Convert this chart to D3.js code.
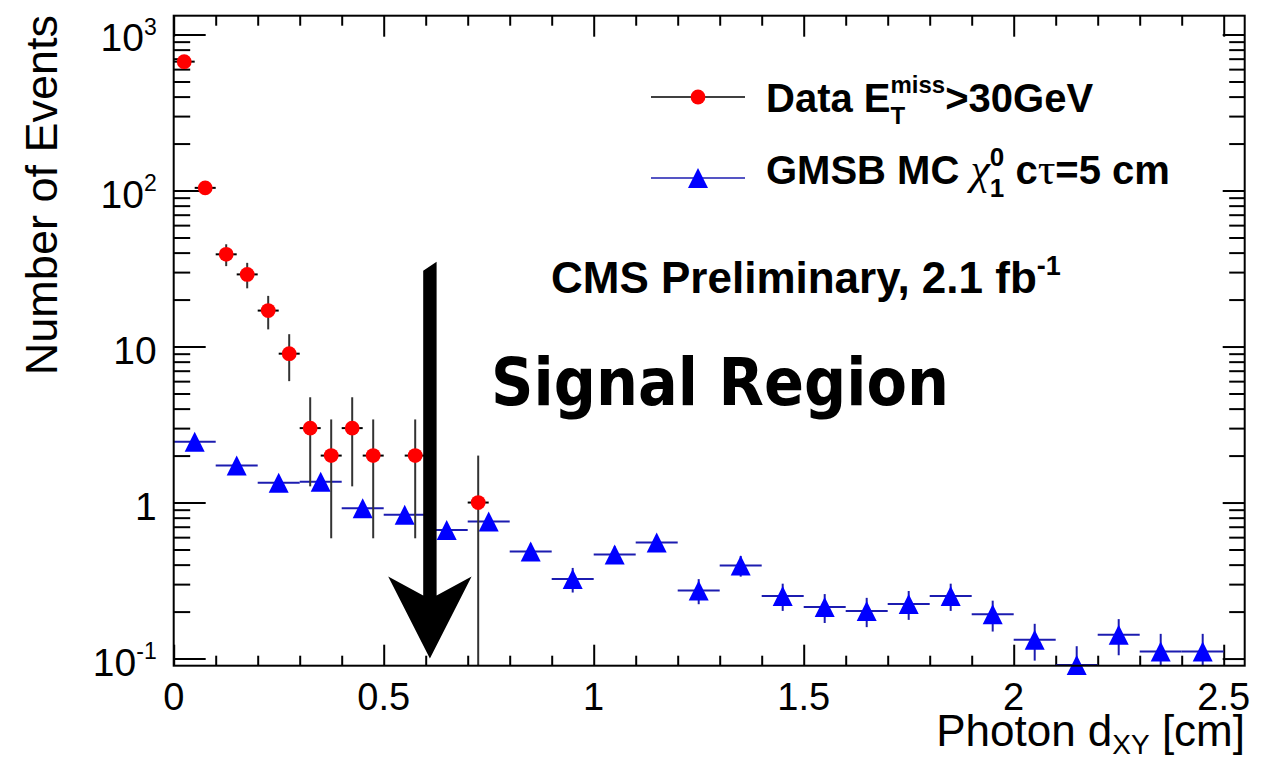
<!DOCTYPE html>
<html>
<head>
<meta charset="utf-8">
<script src="https://cdn.jsdelivr.net/npm/d3@7"></script>
<style>
  body { margin: 0; background: #fff; }
  svg { font-family: 'Liberation Sans', Arial, Helvetica, sans-serif; }
  text { fill: #000; }
</style>
</head>
<body>
<svg id="chart" width="1275" height="760"></svg>
<script>
// data histogram, bin width 0.05 cm (empty bins are not drawn)
const dataCenters = [0.025, 0.075, 0.125, 0.175, 0.225, 0.275, 0.325, 0.375, 0.425, 0.475, 0.575, 0.725]
const dataCounts = [670, 104, 39, 29, 17, 9, 3, 2, 3, 2, 2, 1]
const dataErrors = [25.9, 10.2, 6.24, 5.39, 4.12, 3, 1.73, 1.41, 1.73, 1.41, 1.41, 1]
const dataBinWidth = 0.05

// GMSB MC histogram, bin width 0.1 cm
const mcCenters = [0.05, 0.15, 0.25, 0.35, 0.45, 0.55, 0.65, 0.75, 0.85, 0.95, 1.05, 1.15, 1.25,
  1.35, 1.45, 1.55, 1.65, 1.75, 1.85, 1.95, 2.05, 2.15, 2.25, 2.35, 2.45]
const mcValues = [2.45, 1.73, 1.34, 1.36, 0.92, 0.834, 0.668, 0.755, 0.485, 0.323, 0.464, 0.554, 0.273,
  0.395, 0.252, 0.214, 0.202, 0.224, 0.252, 0.192, 0.132, 0.091, 0.142, 0.111, 0.111]
const mcErrors = [0.08, 0.07, 0.07, 0.07, 0.06, 0.06, 0.06, 0.06, 0.06, 0.058, 0.06, 0.06, 0.05,
  0.06, 0.05, 0.045, 0.043, 0.047, 0.05, 0.043, 0.035, 0.029, 0.037, 0.033, 0.033]
const mcBinWidth = 0.1

// tick labels
const xTickValues = [0, 0.5, 1, 1.5, 2, 2.5]
const xTickLabels = ['0', '0.5', '1', '1.5', '2', '2.5']
const yTickValues = [0.1, 1, 10, 100, 1000]
const yTickBases = ['10', '1', '10', '10', '10']
const yTickExps = ['-1', '', '', '2', '3']

// signal region cut (arrow), in axis units
const cutX = 0.61
const cutTop = 35
const cutTip = 0.1

const width = 1275
const height = 760
const margin = {top: 15.7, right: 30.3, bottom: 94.3, left: 173.7}
const w = width - margin.left - margin.right
const h = height - margin.top - margin.bottom

const x = d3.scaleLinear().domain([0, 2.55]).range([0, w])
const y = d3.scaleLog().domain([0.09, 1320]).range([h, 0])

const svg = d3.select('#chart')
const g = svg.append('g')
  .attr('transform', 'translate(' + margin.left + ',' + margin.top + ')')

// ticks on all four sides, pointing inward
function ticks(axis, values, size, transform) {
  g.append('g')
    .attr('transform', transform)
    .call(axis.tickValues(values).tickSize(-size).tickSizeOuter(0).tickFormat(''))
    .call(a => a.select('.domain').remove())
    .call(a => a.selectAll('line').attr('stroke', '#000').attr('stroke-width', 2))
}
const isDecade = v => Math.abs(Math.log10(v) - Math.round(Math.log10(v))) < 1e-6
const yMinor = y.ticks().filter(v => v > 0.095 && !isDecade(v))
const xMinor = x.ticks(25).filter(v => !xTickValues.some(m => Math.abs(m - v) < 1e-9))

ticks(d3.axisBottom(x), xTickValues, 21, 'translate(0,' + h + ')')
ticks(d3.axisBottom(x), xMinor, 10, 'translate(0,' + h + ')')
ticks(d3.axisTop(x), xTickValues, 21, 'translate(0,0)')
ticks(d3.axisTop(x), xMinor, 10, 'translate(0,0)')
ticks(d3.axisLeft(y), yTickValues, 32, 'translate(0,0)')
ticks(d3.axisLeft(y), yMinor, 16.5, 'translate(0,0)')
ticks(d3.axisRight(y), yTickValues, 22, 'translate(' + w + ',0)')
ticks(d3.axisRight(y), yMinor, 15.5, 'translate(' + w + ',0)')

// tick labels
g.append('g').selectAll('text')
  .data(xTickValues)
  .join('text')
  .attr('x', d => x(d))
  .attr('y', h + 44.5)
  .attr('text-anchor', 'middle')
  .style('font-size', '38px')
  .text((d, i) => xTickLabels[i])

const yLab = g.append('g').selectAll('text')
  .data(yTickValues)
  .join('text')
  .attr('x', -17)
  .attr('y', d => y(d) + 17)
  .attr('text-anchor', 'end')
  .style('font-size', '39px')
yLab.append('tspan').text((d, i) => yTickBases[i])
yLab.filter((d, i) => yTickExps[i] !== '')
  .append('tspan')
  .attr('dy', -17)
  .style('font-size', '23px')
  .text(d => yTickExps[yTickValues.indexOf(d)])

// axis titles
const xt = svg.append('text')
  .attr('x', 1245)
  .attr('y', 746)
  .attr('text-anchor', 'end')
  .style('font-size', '44px')
xt.append('tspan').text('Photon d')
xt.append('tspan').attr('dy', 8).style('font-size', '28px').text('XY')
xt.append('tspan').attr('dy', -8).text(' [cm]')

svg.append('text')
  .attr('transform', 'translate(57,15) rotate(-90)')
  .attr('text-anchor', 'end')
  .style('font-size', '45px')
  .text('Number of Events')

// MC: horizontal bin bars, vertical errors, triangles
const mcColor = '#1c1cb0'
const mc = g.append('g')
mc.selectAll('line.hbar')
  .data(mcCenters)
  .join('line')
  .attr('class', 'hbar')
  .attr('x1', d => x(d - mcBinWidth / 2))
  .attr('x2', d => x(d + mcBinWidth / 2))
  .attr('y1', (d, i) => y(mcValues[i]))
  .attr('y2', (d, i) => y(mcValues[i]))
  .attr('stroke', mcColor)
  .attr('stroke-width', 2)
mc.selectAll('line.vbar')
  .data(mcCenters)
  .join('line')
  .attr('class', 'vbar')
  .attr('x1', d => x(d))
  .attr('x2', d => x(d))
  .attr('y1', (d, i) => y(mcValues[i] + mcErrors[i]))
  .attr('y2', (d, i) => Math.min(h, y(Math.max(mcValues[i] - mcErrors[i], 0.09))))
  .attr('stroke', mcColor)
  .attr('stroke-width', 2)
mc.selectAll('path')
  .data(mcCenters)
  .join('path')
  .attr('transform', (d, i) => 'translate(' + x(d) + ',' + y(mcValues[i]) + ')')
  .attr('d', 'M-10,10L10,10L0,-10Z')
  .attr('fill', '#0000ff')

// data: error bars and circles
const dat = g.append('g')
dat.selectAll('line.vbar')
  .data(dataCenters)
  .join('line')
  .attr('class', 'vbar')
  .attr('x1', d => x(d))
  .attr('x2', d => x(d))
  .attr('y1', (d, i) => y(dataCounts[i] + dataErrors[i]))
  .attr('y2', (d, i) => dataCounts[i] - dataErrors[i] > 0.09 ? y(dataCounts[i] - dataErrors[i]) : h)
  .attr('stroke', '#333')
  .attr('stroke-width', 2)
dat.selectAll('line.hbar')
  .data(dataCenters)
  .join('line')
  .attr('class', 'hbar')
  .attr('x1', d => x(d - dataBinWidth / 2))
  .attr('x2', d => x(d + dataBinWidth / 2))
  .attr('y1', (d, i) => y(dataCounts[i]))
  .attr('y2', (d, i) => y(dataCounts[i]))
  .attr('stroke', '#000')
  .attr('stroke-width', 2)
dat.selectAll('circle')
  .data(dataCenters)
  .join('circle')
  .attr('cx', d => x(d))
  .attr('cy', (d, i) => y(dataCounts[i]))
  .attr('r', 7.4)
  .attr('fill', '#ff0000')

// signal region arrow
const ax = x(cutX)
const at = y(cutTop)
const ab = y(cutTip)
g.append('path')
  .attr('d', 'M' + (ax - 6.7) + ',' + (at + 9) +
    'L' + (ax + 6.7) + ',' + at +
    'L' + (ax + 6.7) + ',' + (ab - 63) +
    'L' + (ax + 41.7) + ',' + (ab - 82) +
    'L' + ax + ',' + ab +
    'L' + (ax - 41.7) + ',' + (ab - 82) +
    'L' + (ax - 6.7) + ',' + (ab - 63) + 'Z')
  .attr('fill', '#000')

// frame
g.append('rect')
  .attr('width', w)
  .attr('height', h)
  .attr('fill', 'none')
  .attr('stroke', '#000')
  .attr('stroke-width', 2)

// labels in the plot
svg.append('text')
  .attr('x', 491)
  .attr('y', 405)
  .style('font-family', "'DejaVu Sans', sans-serif")
  .style('font-weight', 'bold')
  .style('font-size', '66px')
  .attr('textLength', 458)
  .attr('lengthAdjust', 'spacingAndGlyphs')
  .text('Signal Region')

const cms = svg.append('text')
  .attr('x', 551)
  .attr('y', 293)
  .style('font-weight', 'bold')
  .style('font-size', '44px')
cms.append('tspan').text('CMS Preliminary, 2.1 fb')
cms.append('tspan').attr('dy', -18).style('font-size', '27px').text('-1')

// legend
const leg = svg.append('g')
leg.append('line').attr('x1', 651).attr('x2', 745).attr('y1', 97).attr('y2', 97)
  .attr('stroke', '#000').attr('stroke-width', 1.5)
leg.append('circle').attr('cx', 698).attr('cy', 97).attr('r', 7.4).attr('fill', '#ff0000')
leg.append('line').attr('x1', 651).attr('x2', 745).attr('y1', 178).attr('y2', 178)
  .attr('stroke', mcColor).attr('stroke-width', 1.5)
leg.append('path').attr('transform', 'translate(698,178)')
  .attr('d', 'M-10,10L10,10L0,-10Z').attr('fill', '#0000ff')

const l1 = leg.append('text').attr('x', 766).attr('y', 112)
  .style('font-weight', 'bold').style('font-size', '40px')
l1.append('tspan').text('Data E')
const l1sub = l1.append('tspan').attr('dy', 12).style('font-size', '24px').text('T')
l1.append('tspan').attr('dx', -l1sub.node().getComputedTextLength()).attr('dy', -31)
  .style('font-size', '24px').text('miss')
l1.append('tspan').attr('dy', 19).text('>30GeV')

const l2 = leg.append('text').attr('x', 766).attr('y', 184)
  .style('font-weight', 'bold').style('font-size', '40px')
l2.append('tspan').text('GMSB MC ')
l2.append('tspan')
  .style('font-family', "'Liberation Serif', serif")
  .style('font-style', 'italic')
  .style('font-weight', 'normal')
  .style('font-size', '44px')
  .text('\u03c7')
const l2sub = l2.append('tspan').attr('dy', 13).style('font-size', '26px').text('1')
l2.append('tspan').attr('dx', -l2sub.node().getComputedTextLength()).attr('dy', -31)
  .style('font-size', '26px').text('0')
l2.append('tspan').attr('dy', 18).text(' c')
l2.append('tspan')
  .style('font-family', "'Liberation Serif', serif")
  .style('font-weight', 'normal')
  .style('font-size', '44px')
  .text('\u03c4')
l2.append('tspan').text('=5 cm')
</script>
</body>
</html>
